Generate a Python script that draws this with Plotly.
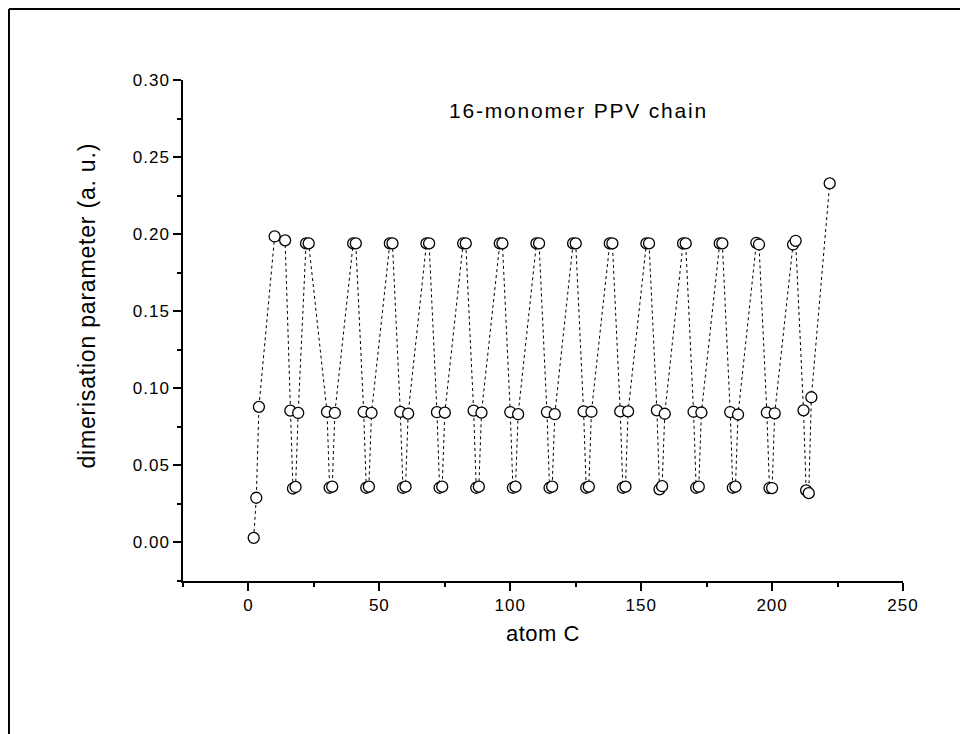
import plotly.graph_objects as go

# atom index (C atoms only) and dimerisation parameter
atom_c = [2, 3, 4, 10, 14, 16, 17, 18, 19, 22, 23,
          30, 31, 32, 33,
          40, 41, 44, 45, 46, 47,
          54, 55, 58, 59, 60, 61,
          68, 69, 72, 73, 74, 75,
          82, 83, 86, 87, 88, 89,
          96, 97, 100, 101, 102, 103,
          110, 111, 114, 115, 116, 117,
          124, 125, 128, 129, 130, 131,
          138, 139, 142, 143, 144, 145,
          152, 153, 156, 157, 158, 159,
          166, 167, 170, 171, 172, 173,
          180, 181, 184, 185, 186, 187,
          194, 195, 198, 199, 200, 201,
          208, 209, 212, 213, 214, 215,
          222]

dimer = [0.003, 0.029, 0.088, 0.1985, 0.196, 0.0855, 0.035, 0.036, 0.084, 0.194, 0.194,
         0.0847, 0.0355, 0.0362, 0.084,
         0.194, 0.194, 0.0847, 0.0355, 0.0362, 0.084,
         0.194, 0.194, 0.0847, 0.0355, 0.0362, 0.0836,
         0.194, 0.194, 0.0845, 0.0355, 0.0362, 0.0842,
         0.194, 0.194, 0.0855, 0.0355, 0.0362, 0.0842,
         0.194, 0.194, 0.0846, 0.0355, 0.0362, 0.0832,
         0.194, 0.194, 0.0846, 0.0355, 0.0362, 0.0832,
         0.194, 0.194, 0.0850, 0.0355, 0.0362, 0.0848,
         0.194, 0.194, 0.0850, 0.0355, 0.0362, 0.0850,
         0.194, 0.194, 0.0857, 0.0345, 0.0365, 0.0835,
         0.194, 0.194, 0.0848, 0.0355, 0.0362, 0.0843,
         0.194, 0.194, 0.0846, 0.0355, 0.0362, 0.0830,
         0.1944, 0.1933, 0.0843, 0.0353, 0.0353, 0.0838,
         0.1933, 0.1957, 0.0857, 0.0338, 0.0320, 0.0942,
         0.2329]

x_ticks = [0, 50, 100, 150, 200, 250]
y_ticks = [0.00, 0.05, 0.10, 0.15, 0.20, 0.25, 0.30]

FONT = "Arial, Liberation Sans, sans-serif"


def spaced(s, px):
    # Origin-style loose letter spacing
    return '<span style="letter-spacing:%spx">%s</span>' % (px, s)


fig = go.Figure(go.Scatter(
    x=atom_c, y=dimer, mode='lines+markers',
    line=dict(color='black', width=1, dash='dot'),
    marker=dict(symbol='circle', size=11, color='white',
                line=dict(color='black', width=1.3)),
    showlegend=False))

axis_common = dict(showline=True, linecolor='black', linewidth=1.5,
                   showgrid=False, zeroline=False, mirror=False,
                   ticks='outside', ticklen=8, tickwidth=1.5,
                   tickcolor='black',
                   tickfont=dict(family=FONT, size=17, color='black'))

fig.update_layout(
    width=968, height=734,
    paper_bgcolor='white', plot_bgcolor='white',
    margin=dict(l=175, r=73, t=72, b=161),
    xaxis=dict(range=[-25, 250], tickvals=x_ticks,
               ticktext=[spaced(str(v), 1) for v in x_ticks],
               minor=dict(dtick=25, tick0=0, ticks='outside', ticklen=4,
                          tickwidth=1.5, tickcolor='black'),
               **axis_common),
    yaxis=dict(range=[-0.025, 0.30], tickvals=y_ticks,
               ticktext=[spaced('%.2f' % v, 1) for v in y_ticks],
               minor=dict(dtick=0.025, tick0=0, ticks='outside', ticklen=4,
                          tickwidth=1.5, tickcolor='black'),
               **axis_common),
    annotations=[
        dict(text=spaced('16-monomer PPV chain', 1.8), x=126, y=0.2805,
             xref='x', yref='y', showarrow=False,
             font=dict(family=FONT, size=21, color='black')),
        dict(text=spaced('atom C', 0.5), x=0.5, y=-0.104, xref='paper',
             yref='paper', showarrow=False, yanchor='middle',
             font=dict(family=FONT, size=22, color='black')),
        dict(text=spaced('dimerisation parameter (a. u.)', 0.8), x=-0.154,
             y=0.55, xref='paper', yref='paper', textangle=-90,
             showarrow=False,
             font=dict(family=FONT, size=23, color='black')),
    ],
    # page frame along the top and left edges
    shapes=[
        dict(type='line', xref='paper', yref='paper', x0=-0.2417, x1=1.2,
             y0=1.1417, y1=1.1417, line=dict(color='black', width=2)),
        dict(type='line', xref='paper', yref='paper', x0=-0.2417, x1=-0.2417,
             y0=1.1417, y1=-0.4, line=dict(color='black', width=2)),
    ],
)

fig.write_html("out.html")
